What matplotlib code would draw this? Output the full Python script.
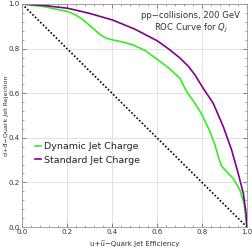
import matplotlib
matplotlib.use("Agg")
import matplotlib.pyplot as plt
from matplotlib.ticker import MultipleLocator, FormatStrFormatter

std_x = [0.0, 0.1, 0.203, 0.3, 0.403, 0.5, 0.601, 0.65, 0.702, 0.740, 0.769, 0.801, 0.850, 0.895, 0.932, 0.961, 0.984, 0.996, 1.0]
std_y = [1.0, 0.993, 0.981, 0.958, 0.928, 0.888, 0.835, 0.800, 0.758, 0.720, 0.682, 0.629, 0.555, 0.450, 0.345, 0.241, 0.151, 0.061, 0.0]

dyn_x = [0.0, 0.1, 0.203, 0.24, 0.273, 0.305, 0.332, 0.355, 0.376, 0.403, 0.450, 0.495, 0.55, 0.601, 0.65, 0.702, 0.732, 0.769, 0.801, 0.836, 0.858, 0.873, 0.887, 0.910, 0.939, 0.969, 0.987, 1.0]
dyn_y = [1.0, 0.988, 0.966, 0.950, 0.928, 0.900, 0.876, 0.857, 0.846, 0.839, 0.829, 0.816, 0.790, 0.752, 0.715, 0.667, 0.607, 0.555, 0.502, 0.427, 0.368, 0.315, 0.274, 0.248, 0.218, 0.166, 0.106, 0.0]

diag_x = [0.0, 1.0]
diag_y = [1.0, 0.0]

fig = plt.figure(figsize=(2.53, 2.50), dpi=100)
ax = fig.add_axes([0.087, 0.092, 0.889, 0.892])

ax.plot(dyn_x, dyn_y, color="#33ee22", lw=1.2, label="Dynamic Jet Charge")
ax.plot(std_x, std_y, color="#800090", lw=1.2, label="Standard Jet Charge")
ax.plot(diag_x, diag_y, color="black", lw=1.2, ls=(0, (1, 1.2)))

ax.set_xlim(0, 1)
ax.set_ylim(0, 1)
ax.xaxis.set_major_locator(MultipleLocator(0.2))
ax.yaxis.set_major_locator(MultipleLocator(0.2))
ax.xaxis.set_minor_locator(MultipleLocator(0.04))
ax.yaxis.set_minor_locator(MultipleLocator(0.04))
ax.xaxis.set_major_formatter(FormatStrFormatter("%.1f"))
ax.yaxis.set_major_formatter(FormatStrFormatter("%.1f"))
ax.grid(True, which="major", color="#dddddd", lw=0.6)
ax.tick_params(which="both", direction="in", top=True, right=True, labelsize=5, colors="#555555", labelcolor="#333333", pad=1.5)
ax.tick_params(which="major", length=3, width=0.5)
ax.tick_params(which="minor", length=1.5, width=0.4)
for s in ax.spines.values():
    s.set_color("#999999")
    s.set_linewidth(0.6)

ax.set_xlabel("u+u\u0305\u2212Quark Jet Efficiency", fontsize=5, color="#333333", labelpad=4)
ax.set_ylabel("d+d\u0305\u2212Quark Jet Rejection", fontsize=4.6, color="#333333")
ax.yaxis.set_label_coords(-0.058, 0.5)

ax.text(0.75, 0.95, "pp\u2212collisions, 200 GeV", transform=ax.transAxes, ha="center", va="center", fontsize=6.1, color="#333333")
ax.text(0.75, 0.89, r"ROC Curve for $Q_J$", transform=ax.transAxes, ha="center", va="center", fontsize=6.1, color="#333333")

leg = ax.legend(loc="center left", bbox_to_anchor=(0.03, 0.33), frameon=False, fontsize=6.8, handlelength=0.6, handletextpad=0.3, labelspacing=0.45, borderaxespad=0.3)
for t in leg.get_texts():
    t.set_color("#222222")

fig.savefig("out.png", dpi=100)
